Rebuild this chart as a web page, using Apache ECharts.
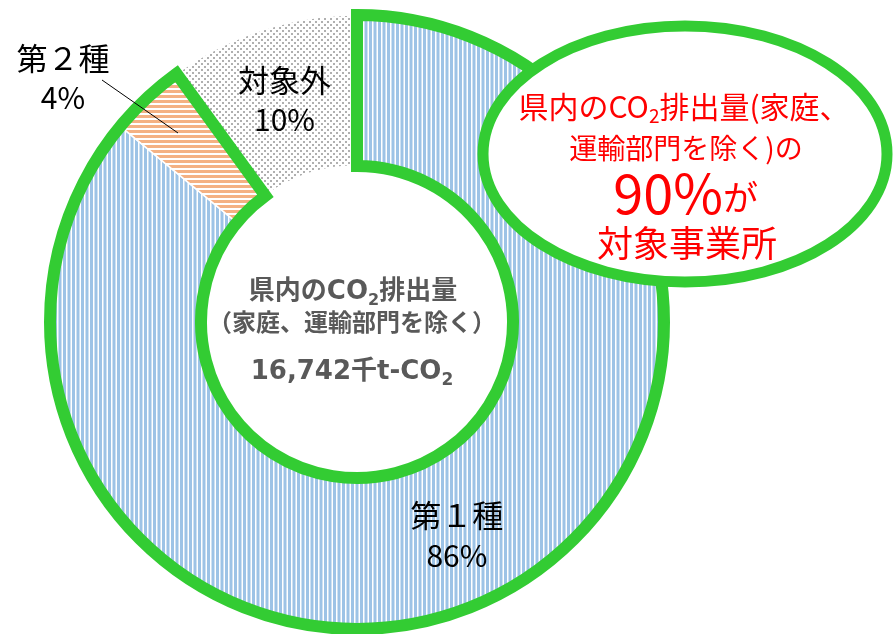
<!DOCTYPE html>
<html><head><meta charset="utf-8">
<script src="https://cdn.jsdelivr.net/npm/echarts/dist/echarts.min.js"></script>
<style>html,body{margin:0;padding:0;background:#fff}#c{width:893px;height:634px}</style>
</head><body><div id="c"></div>
<script>
// ---- data ----
const categories = ['第１種', '第２種', '対象外'];
const shares = [86, 4, 10];
const targetShare = 90;          // 第１種 + 第２種
const totalEmission = '16,742';
const centerTitle = ['県内のCO', '2', '排出量'];
const centerSub = '（家庭、運輸部門を除く）';
const calloutLines = ['県内のCO', '2', '排出量(家庭、', '運輸部門を除く)の', '対象事業所'];

// ---- patterns ----
function tile(w, h, draw) {
  const c = document.createElement('canvas');
  c.width = w; c.height = h;
  const g = c.getContext('2d');
  g.fillStyle = '#fff'; g.fillRect(0, 0, w, h);
  draw(g);
  return c;
}
const bluePat = tile(9, 4, g => { g.fillStyle = '#9dc3e6'; g.fillRect(0, 0, 3, 4); g.fillRect(4.5, 0, 3, 4); });
const orangePat = tile(4, 5, g => { g.fillStyle = '#f4b183'; g.fillRect(0, 0, 4, 3); });
const dotPat = tile(6, 6, g => { g.fillStyle = '#b0b0b0'; g.fillRect(0, 0, 2, 2); g.fillRect(3, 3, 2, 2); });
const patterns = [bluePat, orangePat, dotPat];

const GREEN = '#33cc33';
const CJK = "'Noto Sans CJK JP', sans-serif";
const NARROW = "'Liberation Sans Narrow', 'Noto Sans CJK JP', sans-serif";
const CENTER = [357, 322];
const RADIUS = [156, 307];

const chart = echarts.init(document.getElementById('c'), null, { renderer: 'canvas' });

const pieBase = {
  type: 'pie', center: CENTER, radius: RADIUS, startAngle: 90, clockwise: true,
  avoidLabelOverlap: false, silent: true, animation: false
};

const option = {
  backgroundColor: '#fff',
  series: [
    Object.assign({}, pieBase, {
      z: 1,
      label: { show: false }, labelLine: { show: false },
      data: categories.map((n, i) => ({
        name: n, value: shares[i],
        itemStyle: { color: { image: patterns[i], repeat: 'repeat' }, borderColor: '#fff', borderWidth: 1.5 }
      }))
    }),
    Object.assign({}, pieBase, {
      z: 2,
      label: { show: false }, labelLine: { show: false },
      data: [
        { name: 'target', value: targetShare, itemStyle: { color: 'rgba(0,0,0,0)', borderColor: GREEN, borderWidth: 12, borderJoin: 'miter' } },
        { name: 'other', value: 100 - targetShare, itemStyle: { color: 'rgba(0,0,0,0)', borderWidth: 0 } }
      ]
    }),
    Object.assign({}, pieBase, {
      z: 3,
      itemStyle: { color: 'rgba(0,0,0,0)', borderWidth: 0 },
      label: {
        show: true, position: 'inside', align: 'center',
        formatter: p => '{n|' + p.name + '}\n{p|' + p.value + '%}',
        rich: {
          n: { fontFamily: CJK, fontSize: 31, color: '#000', lineHeight: 42, align: 'center' },
          p: { fontFamily: NARROW, fontSize: 30, color: '#000', lineHeight: 38, align: 'center' }
        }
      },
      labelLine: { show: false },
      labelLayout: function (params) {
        if (params.dataIndex === 1) {
          return { x: 63, y: 77, align: 'center', verticalAlign: 'middle', labelLinePoints: [[178, 133], [102, 80]] };
        }
      },
      data: categories.map((n, i) => {
        const d = { name: n, value: shares[i] };
        if (i === 1) {
          d.label = { position: 'outside' };
          d.labelLine = { show: true, length: 10, length2: 10, lineStyle: { color: '#000', width: 1 } };
        }
        return d;
      })
    })
  ],
  graphic: [
    // center text
    {
      type: 'text', x: 353, y: 292, z: 100,
      style: {
        text: '{a|' + centerTitle[0] + '}{s|' + centerTitle[1] + '}{a|' + centerTitle[2] + '}',
        align: 'center', verticalAlign: 'middle', textAlign: 'center', textVerticalAlign: 'middle',
        rich: {
          a: { fontFamily: "'DejaVu Sans', 'Noto Sans CJK JP', sans-serif", fontWeight: 'bold', fontSize: 26, fill: '#595959', lineHeight: 34 },
          s: { fontFamily: "'DejaVu Sans', sans-serif", fontWeight: 'bold', fontSize: 16, fill: '#595959', lineHeight: 16, verticalAlign: 'bottom' }
        }
      }
    },
    {
      type: 'text', x: 352, y: 322, z: 100,
      style: {
        text: centerSub, font: 'bold 24px ' + CJK, fill: '#595959',
        align: 'center', verticalAlign: 'middle', textAlign: 'center', textVerticalAlign: 'middle'
      }
    },
    {
      type: 'text', x: 352, y: 372, z: 100,
      style: {
        text: '{a|' + totalEmission + '千t-CO}{s|2}',
        align: 'center', verticalAlign: 'middle', textAlign: 'center', textVerticalAlign: 'middle',
        rich: {
          a: { fontFamily: "'DejaVu Sans', 'Noto Sans CJK JP', sans-serif", fontWeight: 'bold', fontSize: 26, fill: '#595959', lineHeight: 34 },
          s: { fontFamily: "'DejaVu Sans', sans-serif", fontWeight: 'bold', fontSize: 17, fill: '#595959', lineHeight: 16, verticalAlign: 'bottom' }
        }
      }
    },
    // callout ellipse
    {
      type: 'ellipse', z: 100,
      shape: { cx: 685, cy: 154, rx: 202, ry: 128 },
      style: { fill: '#fff', stroke: GREEN, lineWidth: 11 }
    },
    {
      type: 'text', x: 684, y: 107, z: 101,
      style: {
        text: '{a|' + calloutLines[0] + '}{s|' + calloutLines[1] + '}{a|' + calloutLines[2] + '}',
        align: 'center', verticalAlign: 'middle', textAlign: 'center', textVerticalAlign: 'middle',
        rich: {
          a: { fontFamily: CJK, fontSize: 30, fill: '#ff0000', lineHeight: 36 },
          s: { fontFamily: CJK, fontSize: 19, fill: '#ff0000', lineHeight: 18, verticalAlign: 'bottom' }
        }
      }
    },
    {
      type: 'text', x: 686, y: 148, z: 101,
      style: {
        text: calloutLines[3], font: '28px ' + CJK, fill: '#ff0000',
        align: 'center', verticalAlign: 'middle', textAlign: 'center', textVerticalAlign: 'middle'
      }
    },
    {
      type: 'text', x: 723, y: 193, z: 101,
      style: {
        text: targetShare + '%', font: '54px ' + CJK, fill: '#ff0000',
        align: 'right', verticalAlign: 'middle', textAlign: 'right', textVerticalAlign: 'middle'
      }
    },
    {
      type: 'text', x: 723, y: 198, z: 101,
      style: {
        text: 'が', font: '35px ' + CJK, fill: '#ff0000',
        align: 'left', verticalAlign: 'middle', textAlign: 'left', textVerticalAlign: 'middle'
      }
    },
    {
      type: 'text', x: 687, y: 243, z: 101,
      style: {
        text: calloutLines[4], font: '36px ' + CJK, fill: '#ff0000',
        align: 'center', verticalAlign: 'middle', textAlign: 'center', textVerticalAlign: 'middle'
      }
    }
  ]
};
chart.setOption(option);
</script></body></html>
